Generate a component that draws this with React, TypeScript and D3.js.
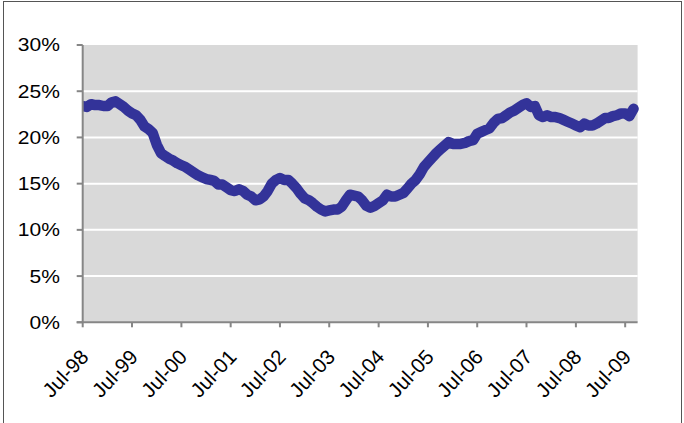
import React from "react";
import * as d3 from "d3";

const startYear = 1998;
const startMonth = 6; // July (0-based)
const seriesValues: number[] = [
  // Jul-98 .. Jun-99
  23.4, 23.3, 23.6, 23.5, 23.5, 23.4, 23.4, 23.8, 23.9, 23.6, 23.3, 22.9,
  // Jul-99 .. Jun-00
  22.6, 22.4, 21.9, 21.2, 20.9, 20.5, 19.2, 18.3, 18.0, 17.7, 17.5, 17.2,
  // Jul-00 .. Jun-01
  17.0, 16.8, 16.5, 16.2, 15.9, 15.7, 15.5, 15.4, 15.3, 14.9, 14.9, 14.6,
  // Jul-01 .. Jun-02
  14.3, 14.2, 14.4, 14.2, 13.8, 13.6, 13.2, 13.3, 13.6, 14.2, 15.0, 15.4,
  // Jul-02 .. Jun-03
  15.6, 15.4, 15.4, 15.0, 14.5, 13.9, 13.4, 13.2, 12.9, 12.5, 12.2, 12.0,
  // Jul-03 .. Jun-04
  12.1, 12.2, 12.2, 12.5, 13.2, 13.8, 13.7, 13.6, 13.2, 12.6, 12.4, 12.6,
  // Jul-04 .. Jun-05
  12.9, 13.2, 13.8, 13.6, 13.6, 13.8, 14.0, 14.5, 15.0, 15.4, 16.0, 16.8,
  // Jul-05 .. Jun-06
  17.3, 17.8, 18.3, 18.7, 19.1, 19.5, 19.3, 19.3, 19.3, 19.4, 19.6, 19.7,
  // Jul-06 .. Jun-07
  20.4, 20.6, 20.8, 21.0, 21.6, 22.0, 22.1, 22.4, 22.7, 22.9, 23.2, 23.5,
  // Jul-07 .. Jun-08
  23.7, 23.3, 23.4, 22.4, 22.2, 22.4, 22.2, 22.2, 22.1, 21.9, 21.7, 21.5,
  // Jul-08 .. Sep-09
  21.3, 21.1, 21.5, 21.3, 21.3, 21.5, 21.8, 22.1, 22.1, 22.3, 22.4, 22.6,
  22.6, 22.3, 23.1,
];
const yTickValues: number[] = [0, 0.05, 0.1, 0.15, 0.2, 0.25, 0.3];
const xTickLabels: string[] = [
  "Jul-98", "Jul-99", "Jul-00", "Jul-01", "Jul-02", "Jul-03",
  "Jul-04", "Jul-05", "Jul-06", "Jul-07", "Jul-08", "Jul-09",
];

const W = 684;
const H = 423;
const plotLeft = 82.7;
const plotRight = 637.6;
const plotTop = 45;
const plotBottom = 322.3;

export default function App() {
  const data = seriesValues.map((v, i) => ({
    date: new Date(startYear, startMonth + i, 1),
    value: v / 100,
  }));
  const x = d3
    .scaleTime()
    .domain([new Date(1998, 6, 1), new Date(2009, 9, 1)])
    .range([plotLeft, plotRight]);
  const y = d3.scaleLinear().domain([0, 0.3]).range([plotBottom, plotTop]);
  const line = d3
    .line<{ date: Date; value: number }>()
    .x((d) => x(d.date))
    .y((d) => y(d.value))
    .curve(d3.curveLinear);
  const fmt = d3.format(".0%");
  const xTicks = xTickLabels.map((lab, i) => ({
    lab,
    date: new Date(1998 + i, 6, 1),
  }));
  const font = "'Liberation Sans', Arial, sans-serif";

  return (
    <svg
      width={W}
      height={H}
      style={{ position: "absolute", left: 0, top: 0 }}
      viewBox={`0 0 ${W} ${H}`}
    >
      <rect x={0} y={0} width={W} height={H} fill="#ffffff" />
      <rect
        x={3.5}
        y={1.5}
        width={678}
        height={440}
        fill="none"
        stroke="#555555"
        strokeWidth={1}
      />
      <defs>
        <clipPath id="plotclip">
          <rect x={plotLeft} y={0} width={W - plotLeft} height={H} />
        </clipPath>
      </defs>
      <rect
        x={plotLeft}
        y={plotTop}
        width={plotRight - plotLeft}
        height={plotBottom - plotTop}
        fill="#d9d9d9"
      />
      {yTickValues
        .filter((v) => v > 0 && v < 0.3)
        .map((v) => (
          <line
            key={v}
            x1={plotLeft}
            x2={plotRight}
            y1={y(v)}
            y2={y(v)}
            stroke="#ffffff"
            strokeWidth={2}
          />
        ))}
      <path
        d={line(data) || ""}
        fill="none"
        stroke="#333399"
        strokeWidth={10.5}
        strokeLinejoin="round"
        strokeLinecap="round"
        clipPath="url(#plotclip)"
      />
      {/* y axis */}
      <line
        x1={plotLeft}
        x2={plotLeft}
        y1={plotTop}
        y2={plotBottom}
        stroke="#868686"
        strokeWidth={2}
      />
      {yTickValues.map((v) => (
        <g key={v}>
          <line
            x1={plotLeft - 6}
            x2={plotLeft}
            y1={y(v)}
            y2={y(v)}
            stroke="#868686"
            strokeWidth={2}
          />
          <text
            transform={`translate(60,${y(v)}) scale(1.17,1)`}
            dy="0.36em"
            textAnchor="end"
            fontFamily={font}
            fontSize={18}
            fill="#000000"
          >
            {fmt(v)}
          </text>
        </g>
      ))}
      {/* x axis */}
      <line
        x1={plotLeft - 6}
        x2={plotRight}
        y1={plotBottom}
        y2={plotBottom}
        stroke="#868686"
        strokeWidth={2}
      />
      {xTicks.map((t) => (
        <g key={t.lab}>
          <line
            x1={x(t.date)}
            x2={x(t.date)}
            y1={plotBottom}
            y2={plotBottom + 5}
            stroke="#868686"
            strokeWidth={2}
          />
          <text
            transform={`translate(${x(t.date) + 7},${plotBottom + 35.5}) rotate(-47)`}
            textAnchor="end"
            fontFamily={font}
            fontSize={20.5}
            fill="#000000"
          >
            {t.lab}
          </text>
        </g>
      ))}
    </svg>
  );
}
